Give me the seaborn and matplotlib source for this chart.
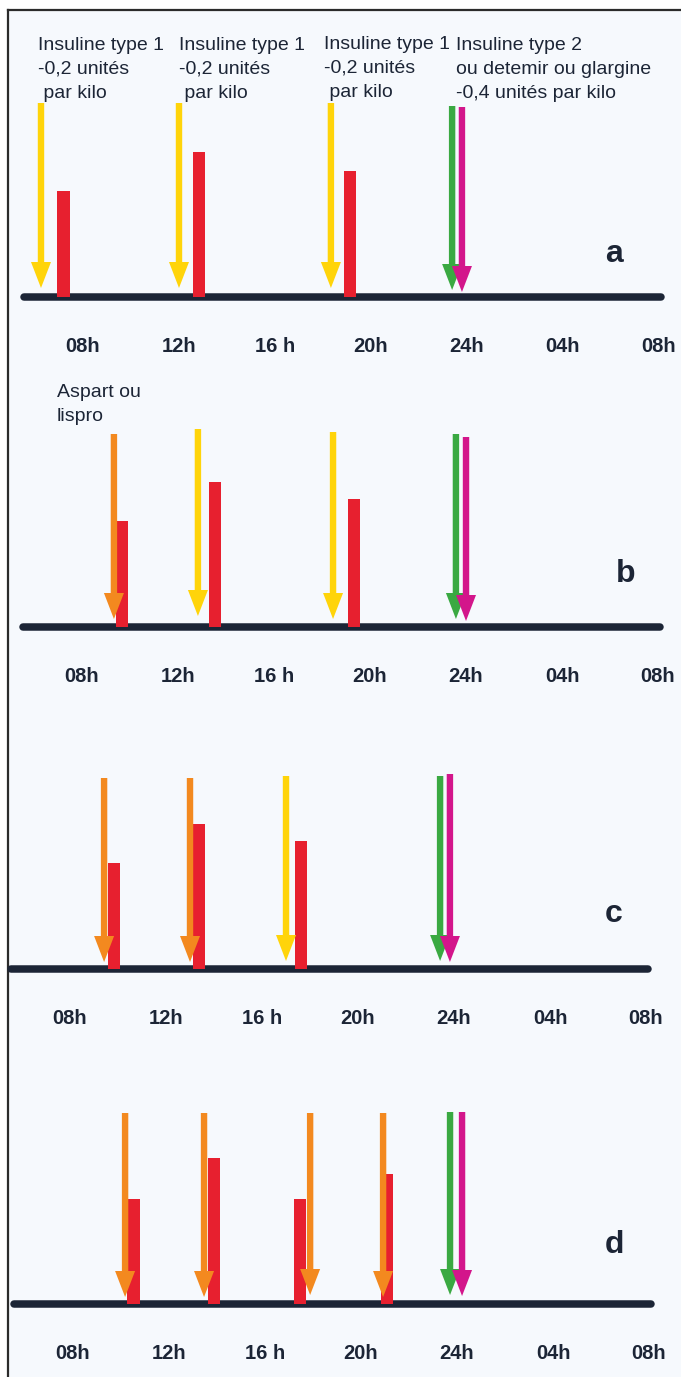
import matplotlib
matplotlib.use("Agg")
import matplotlib.pyplot as plt
import seaborn as sns
from matplotlib.patches import FancyArrow

# time axis (hours of the day, 32 = 08h next morning)
TICK_HOURS = [8, 12, 16, 20, 24, 28, 32]
TICK_LABELS = ["08h", "12h", "16 h", "20h", "24h", "04h", "08h"]
LINE_FROM, LINE_TO = 5.55, 32.1

# injections per schema: time (h), kind, arrow start height, arrow tip height
A_INJ_TIME = [6.25, 12.0, 18.33, 23.38, 23.79]
A_INJ_KIND = ["type1", "type1", "type1", "basal", "type2"]
A_INJ_TOP = [194, 194, 194, 191, 190]
A_INJ_TIP = [9, 9, 9, 7, 5]
A_MEAL_TIME = [7.19, 12.83, 19.13]
A_MEAL_SIZE = [106, 145, 126]

B_INJ_TIME = [9.33, 12.83, 18.46, 23.58, 24.0]
B_INJ_KIND = ["rapid", "type1", "type1", "basal", "type2"]
B_INJ_TOP = [193, 198, 195, 193, 190]
B_INJ_TIP = [8, 11, 8, 8, 6]
B_MEAL_TIME = [9.67, 13.54, 19.33]
B_MEAL_SIZE = [106, 145, 128]

C_INJ_TIME = [9.42, 13.0, 17.0, 23.42, 23.83]
C_INJ_KIND = ["rapid", "rapid", "type1", "basal", "type2"]
C_INJ_TOP = [191, 191, 193, 193, 195]
C_INJ_TIP = [7, 7, 8, 8, 7]
C_MEAL_TIME = [9.83, 13.38, 17.63]
C_MEAL_SIZE = [106, 145, 128]

D_INJ_TIME = [10.17, 13.46, 17.88, 20.92, 23.71, 24.21]
D_INJ_KIND = ["rapid", "rapid", "rapid", "rapid", "basal", "type2"]
D_INJ_TOP = [191, 191, 191, 191, 192, 192]
D_INJ_TIP = [7, 7, 9, 7, 9, 8]
D_MEAL_TIME = [10.52, 13.88, 17.46, 21.08]
D_MEAL_SIZE = [105, 146, 105, 130]

NOTES_A = ["Insuline type 1\n-0,2 unités\n par kilo",
           "Insuline type 1\n-0,2 unités\n par kilo",
           "Insuline type 1\n-0,2 unités\n par kilo",
           "Insuline type 2\nou detemir ou glargine\n-0,4 unités par kilo"]
NOTES_A_TIME = [6.12, 12.0, 18.04, 23.54]
NOTES_B = ["Aspart ou\nlispro"]
NOTES_B_TIME = [6.96]

COLORS = {"type1": "#ffd40a", "rapid": "#f3891f", "basal": "#3aa942",
          "type2": "#d3168b", "meal": "#e7202f"}
INK = "#1c2536"

W, H = 681, 1377
PX_PER_H = 24.0

sns.set_theme(style="white")
plt.rcParams["font.family"] = ["Liberation Sans", "DejaVu Sans"]

fig = plt.figure(figsize=(W / 100, H / 100), dpi=100)
fig.patch.set_facecolor("white")

# scanned page background with its frame on the left and top
bg = fig.add_axes([8 / W, 0, 1 - 8 / W, 1 - 10 / H])
bg.set_facecolor("#f6f9fd")
bg.set_xticks([])
bg.set_yticks([])
for side in ["right", "bottom"]:
    bg.spines[side].set_visible(False)
for side in ["left", "top"]:
    bg.spines[side].set_color("#2b2b2b")
    bg.spines[side].set_linewidth(1.6)


def panel(top, bottom, base, h_at_left, letter, letter_pos, inj, meals, notes=None):
    ax = fig.add_axes([0, 1 - bottom / H, 1, (bottom - top) / H])
    ax.set_facecolor("none")
    ax.set_xlim(h_at_left, h_at_left + W / PX_PER_H)
    ax.set_ylim(-(bottom - base), base - top)
    ax.axis("off")

    # time line
    sns.lineplot(x=[LINE_FROM, LINE_TO], y=[0, 0], color=INK, lw=5.4,
                 solid_capstyle="round", ax=ax, zorder=2)

    # meals (red bars)
    times, sizes = meals
    ax.bar(times, sizes, width=0.53, bottom=0, color=COLORS["meal"],
           linewidth=0, zorder=3)

    # injections (arrows)
    for t, kind, y0, y1 in zip(*inj):
        ax.add_patch(FancyArrow(t, y0, 0, y1 - y0, width=6.4 / PX_PER_H,
                                head_width=20 / PX_PER_H, head_length=26,
                                length_includes_head=True,
                                color=COLORS[kind], lw=0, zorder=4))

    for h, lab in zip(TICK_HOURS, TICK_LABELS):
        ax.text(h, -55, lab, ha="center", va="baseline", fontsize=14.5,
                fontweight="bold", color=INK)

    ax.text(letter_pos[0], letter_pos[1], letter, ha="center", va="baseline",
            fontsize=23, fontweight="bold", color=INK)

    if notes:
        for txt, h, y in zip(*notes):
            ax.text(h, y, txt, ha="left", va="top", fontsize=14,
                    color=INK, linespacing=1.52)
    return ax


panel(0, 370, 297, 4.542, "a", (30.13, 35),
      (A_INJ_TIME, A_INJ_KIND, A_INJ_TOP, A_INJ_TIP), (A_MEAL_TIME, A_MEAL_SIZE),
      (NOTES_A, NOTES_A_TIME, [260, 260, 261, 260]))
panel(370, 720, 627, 4.583, "b", (30.67, 45),
      (B_INJ_TIME, B_INJ_KIND, B_INJ_TOP, B_INJ_TIP), (B_MEAL_TIME, B_MEAL_SIZE),
      (NOTES_B, NOTES_B_TIME, [243]))
panel(720, 1060, 969, 5.083, "c", (30.67, 47),
      (C_INJ_TIME, C_INJ_KIND, C_INJ_TOP, C_INJ_TIP), (C_MEAL_TIME, C_MEAL_SIZE))
panel(1060, 1377, 1304, 4.958, "d", (30.54, 51),
      (D_INJ_TIME, D_INJ_KIND, D_INJ_TOP, D_INJ_TIP), (D_MEAL_TIME, D_MEAL_SIZE))

fig.savefig("out.png", dpi=100, facecolor=fig.get_facecolor())
